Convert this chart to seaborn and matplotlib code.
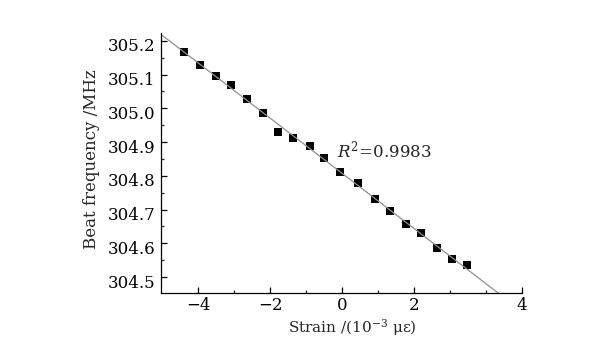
import numpy as np
import pandas as pd
import seaborn as sns
import matplotlib
matplotlib.use("Agg")
import matplotlib.pyplot as plt
import matplotlib.transforms as mtransforms

# veriler
strain = [-4.38, -3.94, -3.51, -3.08, -2.65, -2.19, -1.78, -1.35, -0.89, -0.50,
          -0.06, 0.45, 0.92, 1.33, 1.77, 2.18, 2.63, 3.05, 3.46]
beat_freq = [305.168, 305.127, 305.096, 305.070, 305.028, 304.986, 304.929, 304.912,
             304.889, 304.853, 304.812, 304.779, 304.732, 304.695, 304.656, 304.631,
             304.587, 304.554, 304.537]
x_tick_pos = [-4, -2, 0, 2, 5]
x_tick_labels = ["\u22124", "\u22122", "0", "2", "4"]
y_ticks = [304.5, 304.6, 304.7, 304.8, 304.9, 305.0, 305.1, 305.2]
r2_text = r"$R^2$=0.9983"

df = pd.DataFrame({"strain": strain, "freq": beat_freq})

sns.set_style("ticks")
plt.rcParams["font.family"] = ["DejaVu Serif"]
plt.rcParams["mathtext.fontset"] = "dejavuserif"

fig = plt.figure(figsize=(6.15, 3.37), dpi=100)
ax = fig.add_axes([0.2618, 0.1306, 0.587, 0.7715])
ax.set_xlim(-5.03, 5.0)
ax.set_ylim(304.453, 305.223)

sns.regplot(data=df, x="strain", y="freq", ax=ax, ci=None, truncate=False,
            marker="s", scatter_kws={"s": 26, "color": "black", "alpha": 1, "linewidths": 0},
            line_kws={"color": "#909090", "lw": 0.9})

ax.set_xlim(-5.03, 5.0)
ax.set_ylim(304.453, 305.223)

ax.set_xticks(x_tick_pos)
ax.set_xticklabels(x_tick_labels)
ax.set_xticks([-3, -1, 1, 3, 4], minor=True)
ax.set_yticks(y_ticks)
ax.set_yticklabels([f"{v:.1f}" for v in y_ticks])
ax.set_yticks(np.arange(304.55, 305.21, 0.1), minor=True)

ax.tick_params(axis="both", which="major", direction="in", length=4, width=0.9,
               labelsize=12, colors="black")
ax.tick_params(axis="both", which="minor", direction="in", length=2.5, width=0.9)
ax.tick_params(axis="x", which="major", pad=3)
ax.tick_params(axis="y", which="major", pad=4)

# y etiketleri ticklerin biraz altinda
off = mtransforms.ScaledTranslation(0, -4 / 100, fig.dpi_scale_trans)
for lab in ax.get_yticklabels():
    lab.set_transform(lab.get_transform() + off)

sns.despine(ax=ax)
for s in ["left", "bottom"]:
    ax.spines[s].set_linewidth(0.9)
    ax.spines[s].set_color("black")

ax.set_xlabel("Strain /(10$^{-3}$ \u03bc\u03b5)", fontsize=11)
ax.set_ylabel("Beat frequency /MHz", fontsize=12)
ax.xaxis.set_label_coords(0.529, -0.092)
ax.yaxis.set_label_coords(-0.169, 0.515)

ax.text(-0.14, 304.875, r2_text, fontsize=12, va="center", ha="left")

fig.savefig("out.png", dpi=100)
